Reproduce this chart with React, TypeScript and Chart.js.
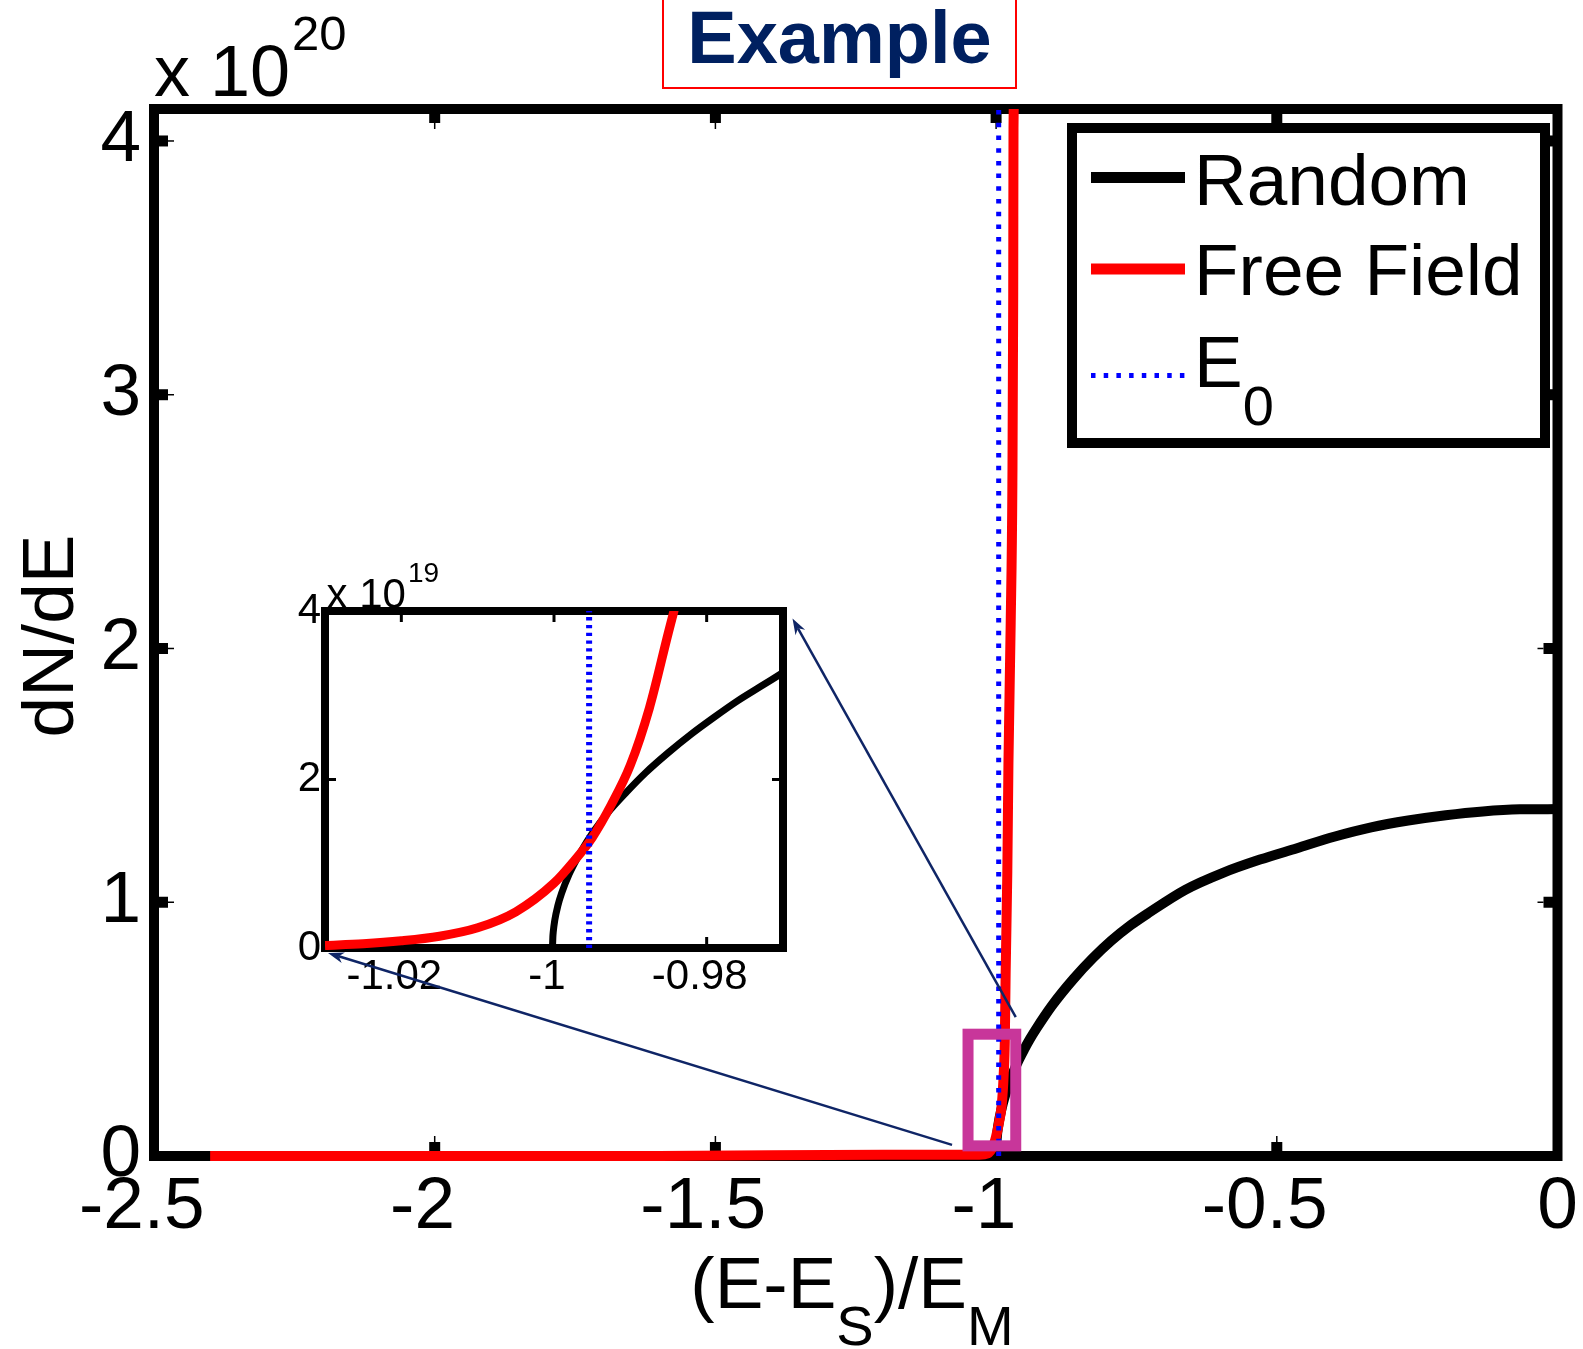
import React, { useEffect, useRef } from 'react';
import { Chart, registerables } from 'chart.js';

Chart.register(...registerables);

const W = 1583;
const H = 1349;
const FONT = '"Liberation Sans", Arial, Helvetica, sans-serif';

// ---------------- main axes data ----------------
const xRange = [-2.5, 0];
const yRange = [0, 4.126];
const xTicks = [-2.5, -2, -1.5, -1, -0.5, 0];
const xTickLabels = ['-2.5', '-2', '-1.5', '-1', '-0.5', '0'];
const yTicks = [0, 1, 2, 3, 4];
const yTickLabels = ['0', '1', '2', '3', '4'];

const seriesLabels = ['Random', 'Free Field', 'E_0'];

const randomX = [-2.5, -1.5, -1.0002, -0.999, -0.996, -0.99, -0.98, -0.97, -0.96, -0.95, -0.94, -0.928, -0.9, -0.862, -0.828, -0.795, -0.76, -0.729, -0.663, -0.597, -0.53, -0.464, -0.398, -0.332, -0.266, -0.199, -0.133, -0.067, 0];
const randomY = [0, 0, 0, 0.065, 0.122, 0.189, 0.267, 0.327, 0.377, 0.42, 0.46, 0.503, 0.594, 0.698, 0.779, 0.848, 0.91, 0.957, 1.049, 1.115, 1.168, 1.213, 1.258, 1.295, 1.322, 1.343, 1.358, 1.366, 1.367];

const freeX = [-2.4, -2.0, -1.6, -1.2, -1.1, -1.05, -1.03, -1.015, -1.005, -1.0, -0.995, -0.99, -0.9865, -0.9845, -0.983, -0.98, -0.978, -0.974, -0.971, -0.9695, -0.969, -0.966];
const freeY = [0, 0, 0, 0.005, 0.005, 0.005, 0.005, 0.01, 0.04, 0.077, 0.13, 0.2, 0.32, 0.45, 0.72, 1.12, 1.55, 2.1, 2.65, 3.4, 4.05, 4.3];

const e0Value = -0.9954;
const e0X = [e0Value, e0Value];
const e0Y = [0, 4.126];

const zoomBoxX = [-1.05, -0.965];
const zoomBoxY = [0.04, 0.48];

// ---------------- inset data (units of 1e19) ----------------
const insetXRange = [-1.03, -0.97];
const insetYRange = [0, 4];
const insetXTicks = [-1.02, -1, -0.98];
const insetXTickLabels = ['-1.02', '-1', '-0.98'];
const insetYTicks = [0, 2, 4];
const insetYTickLabels = ['0', '2', '4'];

const insetRandomX = [-1.0002, -1.00015, -1.0001, -0.9999, -0.9995, -0.999, -0.998, -0.9965, -0.995, -0.993, -0.9905, -0.988, -0.985, -0.982, -0.979, -0.976, -0.973, -0.97];
const insetRandomY = [0, 0.13, 0.19, 0.33, 0.5, 0.65, 0.88, 1.14, 1.36, 1.6, 1.85, 2.08, 2.32, 2.54, 2.74, 2.93, 3.1, 3.27];

const insetFreeX = [-1.03, -1.025, -1.02, -1.015, -1.01, -1.005, -1.0, -0.9975, -0.995, -0.9925, -0.99, -0.9875, -0.985, -0.984];
const insetFreeY = [0.03, 0.05, 0.085, 0.14, 0.24, 0.43, 0.77, 1.02, 1.31, 1.7, 2.17, 2.85, 3.75, 4.1];

const insetE0X = [e0Value, e0Value];
const insetE0Y = [0, 4];

// ---------------- texts ----------------
const titleText = 'Example';
const xAxisLabel = '(E-E_S)/E_M';
const yAxisLabel = 'dN/dE';
const mainExponent = '20';
const insetExponent = '19';

// ---------------- layout / style constants ----------------
const INSET = { left: 325, top: 611, right: 783, bottom: 948 };
const INSET_Y_AXIS_W = 40;
const INSET_X_AXIS_H = 60;
const LEGEND = {
  left: 1072, top: 128, right: 1545, bottom: 443, border: 10,
  sampleX0: 1091, sampleX1: 1185, textX: 1194,
  lineY: [177.5, 269, 375.5], baseY: [205, 295, 387],
  font: 73, subFont: 56, subDrop: 38,
};
const MAGENTA = '#c8369a';
const NAVY = '#0f2566';
const TITLE_NAVY = '#002060';

function pts(xs: number[], ys: number[]) {
  return xs.map((x, i) => ({ x, y: ys[i] }));
}
function negPad(s: string) {
  return s.startsWith('-') ? s + '\u2004' : s;
}

function parseSub(s: string) {
  const segs: { t: string; sub: boolean }[] = [];
  let buf = '';
  for (let i = 0; i < s.length; i++) {
    if (s[i] === '_' && i + 1 < s.length) {
      if (buf) segs.push({ t: buf, sub: false });
      buf = '';
      segs.push({ t: s[i + 1], sub: true });
      i++;
    } else buf += s[i];
  }
  if (buf) segs.push({ t: buf, sub: false });
  return segs;
}

function drawRich(ctx: CanvasRenderingContext2D, s: string, x: number, baseline: number, size: number, subSize: number, subDrop: number, align: 'left' | 'center') {
  const segs = parseSub(s);
  const fN = `${size}px ${FONT}`;
  const fS = `${subSize}px ${FONT}`;
  let total = 0;
  for (const sg of segs) {
    ctx.font = sg.sub ? fS : fN;
    total += ctx.measureText(sg.t).width;
  }
  let cx = align === 'center' ? x - total / 2 : x;
  ctx.textAlign = 'left';
  ctx.textBaseline = 'alphabetic';
  for (const sg of segs) {
    ctx.font = sg.sub ? fS : fN;
    ctx.fillText(sg.t, cx, sg.sub ? baseline + subDrop : baseline);
    cx += ctx.measureText(sg.t).width;
  }
}

function drawFrame(chart: any, o: { lw: number; tickW: number; tickLen: number; thinW: number; thinLen: number }) {
  const { ctx, chartArea: a, scales } = chart;
  ctx.save();
  ctx.setLineDash([]);
  ctx.strokeStyle = '#000';
  ctx.lineJoin = 'miter';
  ctx.lineCap = 'butt';
  ctx.lineWidth = o.lw;
  ctx.strokeRect(a.left, a.top, a.right - a.left, a.bottom - a.top);
  const seg = (x0: number, y0: number, x1: number, y1: number, w: number) => {
    ctx.lineWidth = w;
    ctx.beginPath();
    ctx.moveTo(x0, y0);
    ctx.lineTo(x1, y1);
    ctx.stroke();
  };
  for (const t of scales.x.ticks) {
    const p = scales.x.getPixelForValue(t.value);
    if (p < a.left + 2 || p > a.right - 2) continue;
    seg(p, a.bottom, p, a.bottom - o.tickLen, o.tickW);
    seg(p, a.top, p, a.top + o.tickLen, o.tickW);
    if (o.thinLen > o.tickLen) {
      seg(p, a.bottom - o.tickLen, p, a.bottom - o.thinLen, o.thinW);
      seg(p, a.top + o.tickLen, p, a.top + o.thinLen, o.thinW);
    }
  }
  for (const t of scales.y.ticks) {
    const p = scales.y.getPixelForValue(t.value);
    if (p < a.top + 2 || p > a.bottom - 2) continue;
    seg(a.left, p, a.left + o.tickLen, p, o.tickW);
    seg(a.right, p, a.right - o.tickLen, p, o.tickW);
    if (o.thinLen > o.tickLen) {
      seg(a.left + o.tickLen, p, a.left + o.thinLen, p, o.thinW);
      seg(a.right - o.tickLen, p, a.right - o.thinLen, p, o.thinW);
    }
  }
  ctx.restore();
}

function drawExponent(ctx: CanvasRenderingContext2D, x: number, baseline: number, size: number, supSize: number, supRise: number, exp: string) {
  ctx.save();
  ctx.fillStyle = '#000';
  ctx.textAlign = 'left';
  ctx.textBaseline = 'alphabetic';
  ctx.font = `${size}px ${FONT}`;
  const base = 'x 10';
  ctx.fillText(base, x, baseline);
  const w = ctx.measureText(base).width;
  ctx.font = `${supSize}px ${FONT}`;
  ctx.fillText(exp, x + w + 2, baseline - supRise);
  ctx.restore();
}

function drawLegend(chart: any) {
  const { ctx } = chart;
  const L = LEGEND;
  ctx.save();
  ctx.setLineDash([]);
  ctx.fillStyle = '#fff';
  ctx.fillRect(L.left, L.top, L.right - L.left, L.bottom - L.top);
  ctx.strokeStyle = '#000';
  ctx.lineWidth = L.border;
  ctx.lineJoin = 'miter';
  ctx.strokeRect(L.left, L.top, L.right - L.left, L.bottom - L.top);
  chart.data.datasets.forEach((ds: any, i: number) => {
    ctx.save();
    ctx.strokeStyle = ds.borderColor;
    ctx.lineWidth = ds.borderDash ? ds.borderWidth : ds.borderWidth + 1;
    ctx.setLineDash(ds.borderDash || []);
    ctx.lineCap = 'butt';
    ctx.beginPath();
    ctx.moveTo(L.sampleX0, L.lineY[i]);
    ctx.lineTo(L.sampleX1, L.lineY[i]);
    ctx.stroke();
    ctx.restore();
    ctx.fillStyle = '#000';
    drawRich(ctx, ds.label, L.textX, L.baseY[i], L.font, L.subFont, L.subDrop, 'left');
  });
  ctx.restore();
}

function drawArrow(ctx: CanvasRenderingContext2D, x0: number, y0: number, x1: number, y1: number) {
  const ang = Math.atan2(y1 - y0, x1 - x0);
  const headLen = 16;
  const headW = 11;
  const c = Math.cos(ang);
  const s = Math.sin(ang);
  const bx = x1 - headLen * c;
  const by = y1 - headLen * s;
  const nx = x1 - headLen * 0.7 * c;
  const ny = y1 - headLen * 0.7 * s;
  ctx.save();
  ctx.strokeStyle = NAVY;
  ctx.fillStyle = NAVY;
  ctx.lineWidth = 2.5;
  ctx.setLineDash([]);
  ctx.beginPath();
  ctx.moveTo(x0, y0);
  ctx.lineTo(nx, ny);
  ctx.stroke();
  ctx.beginPath();
  ctx.moveTo(x1, y1);
  ctx.lineTo(bx + (headW / 2) * s, by - (headW / 2) * c);
  ctx.lineTo(nx, ny);
  ctx.lineTo(bx - (headW / 2) * s, by + (headW / 2) * c);
  ctx.closePath();
  ctx.fill();
  ctx.restore();
}

const mainDecor = {
  id: 'mainDecor',
  beforeDatasetsDraw(chart: any) {
    drawFrame(chart, { lw: 10, tickW: 11, tickLen: 14, thinW: 1.5, thinLen: 20 });
  },
  afterDatasetsDraw(chart: any) {
    const { ctx, scales } = chart;
    const l = scales.x.getPixelForValue(zoomBoxX[0]);
    const r = scales.x.getPixelForValue(zoomBoxX[1]);
    const t = scales.y.getPixelForValue(zoomBoxY[1]);
    const b = scales.y.getPixelForValue(zoomBoxY[0]);
    ctx.save();
    ctx.setLineDash([]);
    ctx.strokeStyle = MAGENTA;
    ctx.lineWidth = 11;
    ctx.lineJoin = 'miter';
    ctx.strokeRect(l, t, r - l, b - t);
    ctx.restore();
    drawLegend(chart);
  },
  afterDraw(chart: any) {
    const { ctx, chartArea: a } = chart;
    ctx.save();
    ctx.setLineDash([]);
    ctx.strokeStyle = '#ff0000';
    ctx.lineWidth = 2;
    ctx.strokeRect(663, -1, 353, 89);
    ctx.fillStyle = TITLE_NAVY;
    ctx.font = `bold 74px ${FONT}`;
    ctx.textAlign = 'center';
    ctx.textBaseline = 'alphabetic';
    ctx.fillText(titleText, 839.5, 63);
    ctx.restore();
    drawExponent(ctx, a.left, a.top - 13, 72, 49, 46, mainExponent);
    ctx.save();
    ctx.fillStyle = '#000';
    drawRich(ctx, xAxisLabel, 852, 1308, 73, 56, 37, 'center');
    ctx.restore();
    ctx.save();
    ctx.fillStyle = '#000';
    ctx.translate(73, 636);
    ctx.rotate(-Math.PI / 2);
    ctx.font = `73px ${FONT}`;
    ctx.textAlign = 'center';
    ctx.textBaseline = 'alphabetic';
    ctx.fillText(yAxisLabel, 0, 0);
    ctx.restore();
  },
};

function insetDecor(main: any) {
  return {
    id: 'insetDecor',
    beforeDraw(chart: any) {
      const { ctx, chartArea: a } = chart;
      drawExponent(ctx, a.left + 1.5, a.top - 3, 42, 28, 26, insetExponent);
    },
    beforeDatasetsDraw(chart: any) {
      drawFrame(chart, { lw: 8, tickW: 3, tickLen: 11, thinW: 0, thinLen: 0 });
    },
    afterDraw(chart: any) {
      const { ctx, chartArea: a } = chart;
      const ms = main.scales;
      const l = ms.x.getPixelForValue(zoomBoxX[0]);
      const r = ms.x.getPixelForValue(zoomBoxX[1]);
      const t = ms.y.getPixelForValue(zoomBoxY[1]);
      const b = ms.y.getPixelForValue(zoomBoxY[0]);
      drawArrow(ctx, r, t - 17, a.right + 9.5, a.top + 7.5);
      drawArrow(ctx, l - 16, b - 1, a.left + 3, a.bottom + 5);
    },
  };
}

function lineDs(label: string, data: any[], color: string, width: number, order: number, extra: any = {}) {
  return {
    label,
    data,
    borderColor: color,
    backgroundColor: color,
    borderWidth: width,
    pointRadius: 0,
    pointHoverRadius: 0,
    fill: false,
    order,
    borderCapStyle: 'butt',
    borderJoinStyle: 'round',
    ...extra,
  };
}

function mainConfig(): any {
  const fontTicks = { family: FONT, size: 73 };
  return {
    type: 'line',
    data: {
      datasets: [
        lineDs(seriesLabels[0], pts(randomX, randomY), '#000000', 10, 3, { cubicInterpolationMode: 'monotone', clip: { left: 0, top: 0, right: 0, bottom: 10 } }),
        lineDs(seriesLabels[1], pts(freeX, freeY), '#ff0000', 10, 2, { cubicInterpolationMode: 'monotone', clip: { left: 0, top: 0, right: 0, bottom: 10 } }),
        lineDs(seriesLabels[2], pts(e0X, e0Y), '#0000ff', 5, 1, { borderDash: [4.5, 8.2], clip: 0 }),
      ],
    },
    options: {
      responsive: false,
      animation: false,
      devicePixelRatio: 1,
      events: [],
      layout: { padding: { left: 54, top: 109, right: 25.5, bottom: 93 } },
      plugins: { legend: { display: false }, tooltip: { enabled: false }, title: { display: false } },
      scales: {
        x: {
          type: 'linear',
          min: xRange[0],
          max: xRange[1],
          grid: { display: false, drawTicks: false },
          border: { display: false },
          afterBuildTicks: (s: any) => { s.ticks = xTicks.map((v) => ({ value: v })); },
          afterFit: (s: any) => { s.height = 100; s.paddingLeft = 0; s.paddingRight = 0; },
          ticks: {
            autoSkip: false, maxRotation: 0, minRotation: 0, padding: 8, color: '#000', font: fontTicks,
            callback: (_v: any, i: number) => negPad(xTickLabels[i]),
          },
        },
        y: {
          type: 'linear',
          min: yRange[0],
          max: yRange[1],
          grid: { display: false, drawTicks: false },
          border: { display: false },
          afterBuildTicks: (s: any) => { s.ticks = yTicks.map((v) => ({ value: v })); },
          afterFit: (s: any) => { s.width = 100; s.paddingTop = 0; s.paddingBottom = 0; },
          ticks: {
            autoSkip: false, padding: 13, color: '#000', font: fontTicks,
            callback: (_v: any, i: number) => yTickLabels[i],
          },
        },
      },
    },
    plugins: [mainDecor],
  };
}

function insetConfig(main: any): any {
  const fontTicks = { family: FONT, size: 42 };
  return {
    type: 'line',
    data: {
      datasets: [
        lineDs(seriesLabels[0], pts(insetRandomX, insetRandomY), '#000000', 7, 3, { cubicInterpolationMode: 'monotone', clip: { left: 0, top: 0, right: 0, bottom: 8 } }),
        lineDs(seriesLabels[1], pts(insetFreeX, insetFreeY), '#ff0000', 9, 2, { cubicInterpolationMode: 'monotone', clip: { left: 0, top: 0, right: 0, bottom: 8 } }),
        lineDs(seriesLabels[2], pts(insetE0X, insetE0Y), '#0000ff', 6, 1, { borderDash: [3.3, 4.5], clip: 0 }),
      ],
    },
    options: {
      responsive: false,
      animation: false,
      devicePixelRatio: 1,
      events: [],
      layout: {
        padding: {
          left: INSET.left - INSET_Y_AXIS_W,
          top: INSET.top,
          right: W - INSET.right,
          bottom: H - INSET.bottom - INSET_X_AXIS_H,
        },
      },
      plugins: { legend: { display: false }, tooltip: { enabled: false }, title: { display: false } },
      scales: {
        x: {
          type: 'linear',
          min: insetXRange[0],
          max: insetXRange[1],
          grid: { display: false, drawTicks: false },
          border: { display: false },
          afterBuildTicks: (s: any) => { s.ticks = insetXTicks.map((v) => ({ value: v })); },
          afterFit: (s: any) => { s.height = INSET_X_AXIS_H; s.paddingLeft = 0; s.paddingRight = 0; },
          ticks: {
            autoSkip: false, maxRotation: 0, minRotation: 0, padding: 4, color: '#000', font: fontTicks,
            callback: (_v: any, i: number) => negPad(insetXTickLabels[i]),
          },
        },
        y: {
          type: 'linear',
          min: insetYRange[0],
          max: insetYRange[1],
          grid: { display: false, drawTicks: false },
          border: { display: false },
          afterBuildTicks: (s: any) => { s.ticks = insetYTicks.map((v) => ({ value: v })); },
          afterFit: (s: any) => { s.width = INSET_Y_AXIS_W; s.paddingTop = 0; s.paddingBottom = 0; },
          ticks: {
            autoSkip: false, padding: 4, color: '#000', font: fontTicks,
            callback: (_v: any, i: number) => insetYTickLabels[i],
          },
        },
      },
    },
    plugins: [insetDecor(main)],
  };
}

export default function App() {
  const mainRef = useRef<HTMLCanvasElement>(null);
  const insetRef = useRef<HTMLCanvasElement>(null);

  useEffect(() => {
    if (!mainRef.current || !insetRef.current) return;
    const main = new Chart(mainRef.current, mainConfig());
    const inset = new Chart(insetRef.current, insetConfig(main));
    return () => {
      inset.destroy();
      main.destroy();
    };
  }, []);

  const canvasStyle: React.CSSProperties = { position: 'absolute', left: 0, top: 0, width: W, height: H };
  return (
    <div style={{ position: 'absolute', left: 0, top: 0, width: W, height: H, background: '#ffffff', overflow: 'hidden' }}>
      <canvas ref={mainRef} width={W} height={H} style={canvasStyle} />
      <canvas ref={insetRef} width={W} height={H} style={{ ...canvasStyle, pointerEvents: 'none' }} />
    </div>
  );
}
